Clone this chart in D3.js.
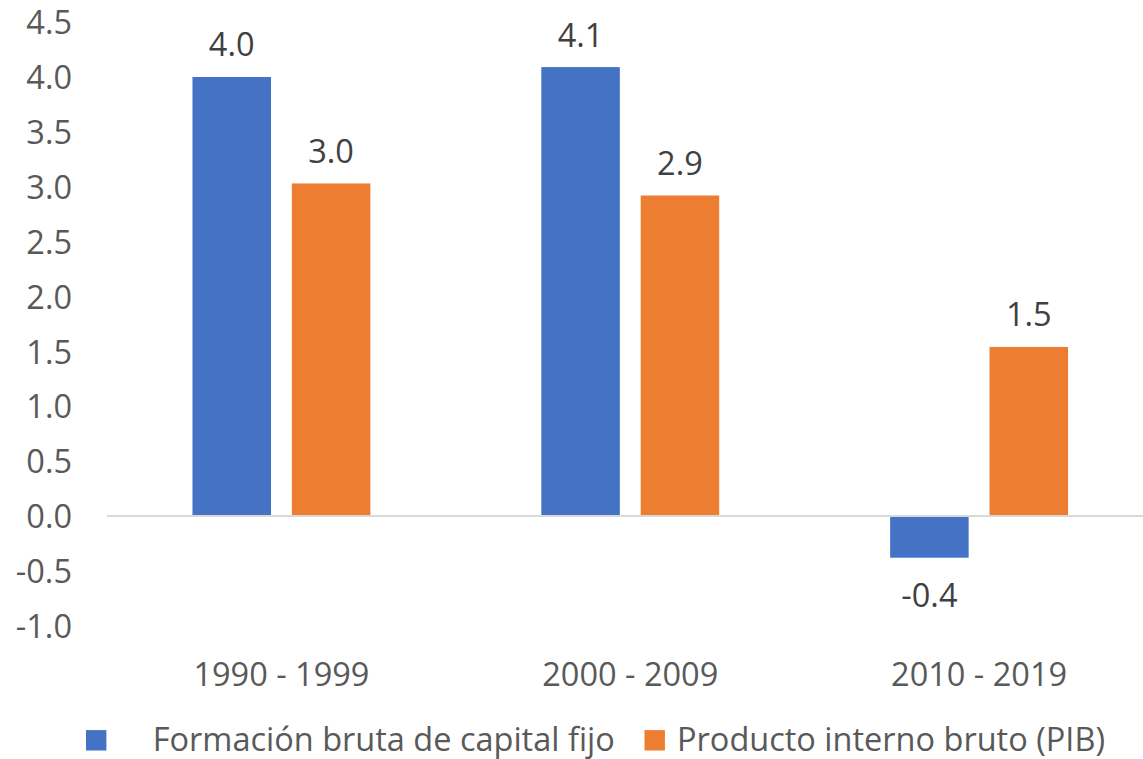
<!DOCTYPE html>
<html>
<head>
<meta charset="utf-8">
<script src="https://cdn.jsdelivr.net/npm/d3@7"></script>
<style>
  html, body { margin: 0; padding: 0; background: #fff; overflow: hidden; }
  svg { display: block; font-family: "Open Sans", Lato, sans-serif; }
</style>
</head>
<body>
<svg id="chart" width="1143" height="759"></svg>
<script>
// Average annual growth by decade (%)
const periods = ["1990 - 1999", "2000 - 2009", "2010 - 2019"];
const seriesNames = ["Formación bruta de capital fijo", "Producto interno bruto (PIB)"];
const formacion = [4.0, 4.09, -0.38];
const pib = [3.03, 2.92, 1.54];
const yTicks = [-1.0, -0.5, 0.0, 0.5, 1.0, 1.5, 2.0, 2.5, 3.0, 3.5, 4.0, 4.5];
const colors = ["#4472C4", "#ED7D31"];

const seriesValues = [formacion, pib];
const rows = periods.map((p, i) => ({
  period: p,
  values: seriesNames.map((s, k) => ({ series: s, value: seriesValues[k][i], color: colors[k] }))
}));

// one-decimal format using a plain hyphen for negatives
const fmt = d3.formatLocale({ decimal: ".", thousands: ",", grouping: [3], currency: ["", ""], minus: "-" }).format(".1f");

const svg = d3.select("#chart");
const fontFamily = "'Open Sans', Lato, sans-serif";
const fontSize = 32.5;
const capHalf = fontSize * 0.36;

const y = d3.scaleLinear().domain([-1, 4.5]).range([625.75, 22.1]);
const x0 = d3.scaleBand().domain(periods).range([107, 1153.5])
  .paddingInner(0.49).paddingOuter(0.245);
const x1 = d3.scaleBand().domain(seriesNames).range([0, x0.bandwidth()]).paddingInner(0.21);

// y axis labels (no axis line, no ticks)
const yAxis = d3.axisLeft(y).tickValues(yTicks).tickFormat(fmt).tickSize(0).tickPadding(0);
const gy = svg.append("g").attr("transform", "translate(72,0)").call(yAxis);
gy.select(".domain").remove();
gy.selectAll("text")
  .attr("font-size", fontSize)
  .attr("font-family", fontFamily)
  .attr("fill", "#595959")
  .attr("dy", null)
  .attr("y", capHalf);

// bars
const groups = svg.append("g").selectAll("g").data(rows).join("g")
  .attr("transform", d => `translate(${x0(d.period)},0)`);

groups.selectAll("rect").data(d => d.values).join("rect")
  .attr("x", d => x1(d.series))
  .attr("width", x1.bandwidth())
  .attr("y", d => y(Math.max(0, d.value)))
  .attr("height", d => Math.abs(y(d.value) - y(0)))
  .attr("fill", d => d.color);

// zero line
svg.append("line")
  .attr("x1", 107).attr("x2", 1153.5)
  .attr("y1", y(0)).attr("y2", y(0))
  .attr("stroke", "#D9D9D9").attr("stroke-width", 2);

// value labels
groups.selectAll("text.val").data(d => d.values).join("text")
  .attr("class", "val")
  .attr("x", d => x1(d.series) + x1.bandwidth() / 2)
  .attr("y", d => d.value >= 0 ? y(d.value) - 20.5 : y(d.value) + 49.5)
  .attr("text-anchor", "middle")
  .attr("font-size", fontSize)
  .attr("font-family", fontFamily)
  .attr("fill", "#404040")
  .text(d => fmt(d.value));

// category labels
const xAxis = d3.axisBottom(x0).tickSize(0).tickPadding(0);
const gx = svg.append("g").attr("transform", "translate(0,685.5)").call(xAxis);
gx.select(".domain").remove();
gx.selectAll("text")
  .attr("font-size", fontSize)
  .attr("font-family", fontFamily)
  .attr("fill", "#595959")
  .attr("dy", null)
  .attr("y", 0);

// legend
const legendX = [86, 644.5];
const legendBase = 750.5;
const legend = svg.append("g").selectAll("g").data(seriesNames).join("g")
  .attr("transform", (d, i) => `translate(${legendX[i]},0)`);
legend.append("rect")
  .attr("x", 0).attr("y", legendBase - 20.4).attr("width", 20.4).attr("height", 20.4)
  .attr("fill", (d, i) => colors[i]);
legend.append("text")
  .attr("x", (d, i) => i === 0 ? 66.7 : 32.5)
  .attr("y", legendBase)
  .attr("font-size", fontSize)
  .attr("font-family", fontFamily)
  .attr("fill", "#595959")
  .text(d => d);
</script>
</body>
</html>
